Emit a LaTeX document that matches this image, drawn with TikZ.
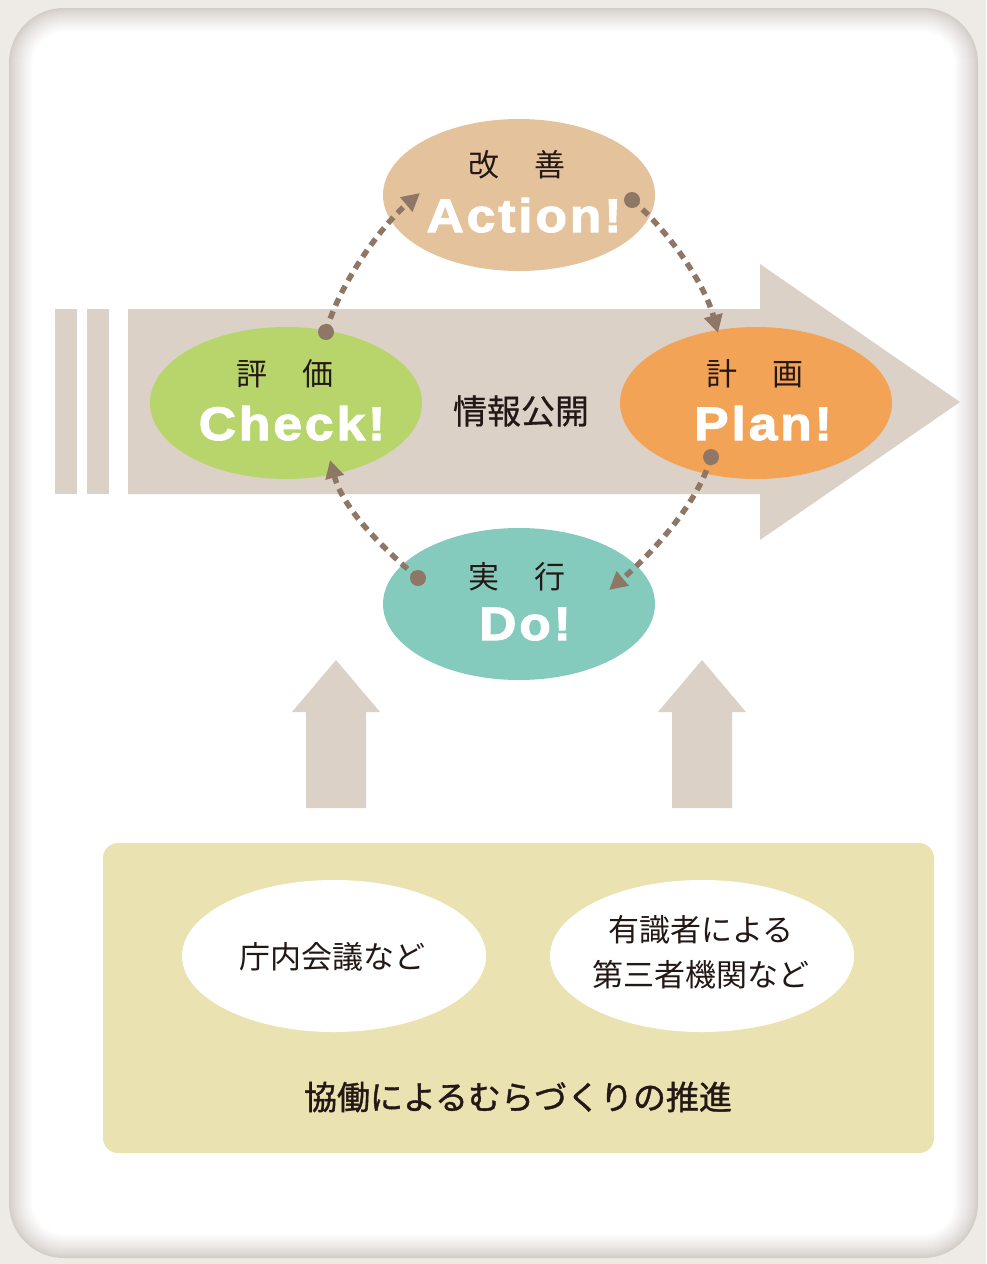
\documentclass[tikz,border=0pt]{standalone}
\usepackage{fontspec}
\setmainfont{Liberation Sans}
\newfontfamily\jp{Noto Sans CJK JP}
\newfontfamily\lat{Liberation Sans}[FakeStretch=1.1,LetterSpace=6,FakeBold=2.2]
\usetikzlibrary{shapes.geometric,arrows.meta}
\definecolor{outerbg}{HTML}{EEEAE6}
\definecolor{shadowc}{HTML}{D3CCC8}
\definecolor{beige}{HTML}{DBD1C7}
\definecolor{actc}{HTML}{E4C29C}
\definecolor{chkc}{HTML}{B8D56C}
\definecolor{plnc}{HTML}{F3A356}
\definecolor{doc}{HTML}{84CBBE}
\definecolor{dotc}{HTML}{8F7767}
\definecolor{boxc}{HTML}{EAE3B1}
\definecolor{txt}{HTML}{231815}
\begin{document}
\begin{tikzpicture}[x=1pt,y=-1pt,
  phase/.style={ellipse,minimum width=272pt,minimum height=152pt,inner sep=0pt,draw=none},
  white ell/.style={ellipse,fill=white,minimum width=304pt,minimum height=152pt,inner sep=0pt},
  kanji/.style={font=\jp\fontsize{31}{31}\selectfont,text=txt,inner sep=0pt},
  eng/.style={font=\lat\bfseries\fontsize{47}{47}\selectfont,text=white,inner sep=0pt,anchor=base},
  body/.style={font=\jp\fontsize{31}{45}\selectfont,text=txt,inner sep=0pt,align=center},
  cyc/.style={draw=dotc,line width=5.5pt,dash pattern=on 8pt off 6pt,-{Triangle[length=18pt,width=18pt]}},
  dotmark/.style={fill=dotc},
  bigarrow/.style={fill=beige}
]
\useasboundingbox (0,0) rectangle (986,1264);
% background frame
\fill[outerbg] (0,0) rectangle (986,1264);
\foreach \i in {0,...,24}{
  \pgfmathsetmacro\p{100*(\i/24)^0.8}
  \pgfmathsetmacro\r{55-\i}
  \fill[white!\p!shadowc,rounded corners=\r pt] (9+\i,8+\i) rectangle (978-\i,1258-\i);
}
% main arrow
\fill[bigarrow] (55,309) rectangle (77,494);
\fill[bigarrow] (87,309) rectangle (109,494);
\fill[bigarrow] (128,309) -- (760,309) -- (760,264) -- (960,402) -- (760,540) -- (760,494) -- (128,494) -- cycle;
% phase ellipses
\node[phase,fill=actc] (act) at (519,195) {};
\node[phase,fill=chkc] (chk) at (286,403) {};
\node[phase,fill=plnc] (pln) at (756,403) {};
\node[phase,fill=doc] (do) at (519,604) {};
% labels
\node[kanji] (actk) at (517,165) {改\hspace{1.1em}善};
\node[eng] (acte) at (524,232) {Action!};
\node[kanji] (chkk) at (285,374) {評\hspace{1.1em}価};
\node[eng] (chke) at (292,440) {Check!};
\node[kanji] (plnk) at (755,374) {計\hspace{1.1em}画};
\node[eng] (plne) at (763,440) {Plan!};
\node[kanji] (dok) at (517,577) {実\hspace{1.1em}行};
\node[eng] (doe) at (525,640) {Do!};
\node[font=\jp\fontsize{34}{34}\selectfont\addfontfeature{FakeBold=0.6},text=txt,inner sep=0pt] (info) at (521,411) {情報公開};
% cycle connectors
\coordinate (d1) at (326,332); \coordinate (t1) at (420,193);
\coordinate (d2) at (632,200); \coordinate (t2) at (718,333);
\coordinate (d3) at (711,457); \coordinate (t3) at (609,590);
\coordinate (d4) at (418,578); \coordinate (t4) at (330,460);
\draw[cyc] (d1) .. controls (339,284) and (382,225) .. (t1);
\draw[cyc] (d2) .. controls (670,232) and (705,285) .. (t2);
\draw[cyc] (d3) .. controls (698,505) and (647,558) .. (t3);
\draw[cyc] (d4) .. controls (380,546) and (343,508) .. (t4);
\fill[dotmark] (d1) circle[radius=8pt];
\fill[dotmark] (d2) circle[radius=8pt];
\fill[dotmark] (d3) circle[radius=8pt];
\fill[dotmark] (d4) circle[radius=8pt];
% up arrows
\fill[bigarrow] (306,808) -- (306,712) -- (292,712) -- (336,660) -- (380,712) -- (366,712) -- (366,808) -- cycle;
\fill[bigarrow] (672,808) -- (672,712) -- (658,712) -- (702,660) -- (746,712) -- (732,712) -- (732,808) -- cycle;
% bottom box
\fill[boxc,rounded corners=15pt] (103,843) rectangle (934,1153);
\node[white ell] (e1) at (334,956) {};
\node[white ell] (e2) at (702,956) {};
\node[body] (t1txt) at (332,957) {庁内会議など};
\node[body] (t2txt) at (701,952) {有識者による\\第三者機関など};
\node[font=\jp\fontsize{33}{33}\selectfont\addfontfeature{FakeBold=1.2},text=txt,inner sep=0pt] (main) at (518,1097) {協働によるむらづくりの推進};
\end{tikzpicture}
\end{document}
